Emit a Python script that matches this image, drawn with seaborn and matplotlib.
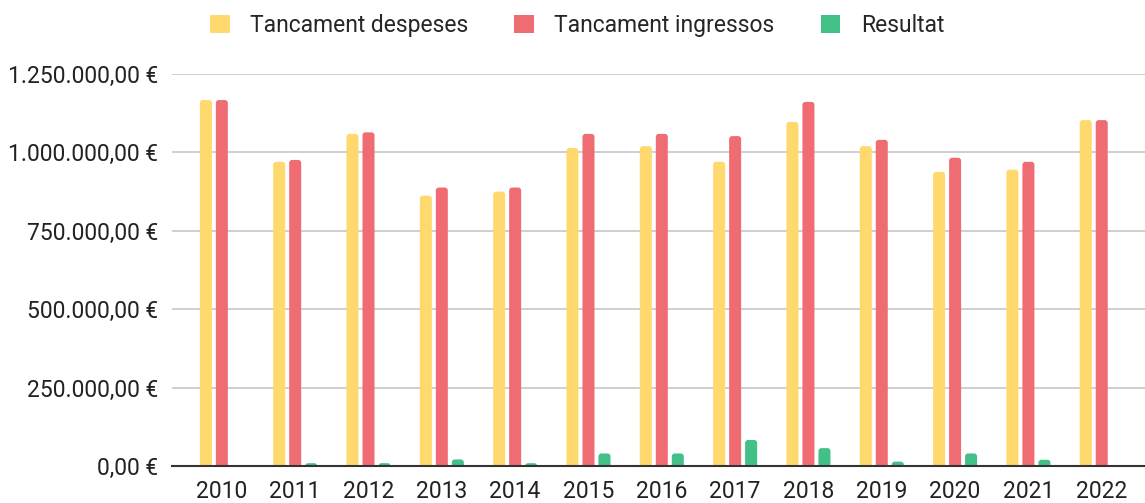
import matplotlib.pyplot as plt
import pandas as pd
import seaborn as sns
from matplotlib.patches import FancyBboxPatch, Patch
from matplotlib.ticker import FuncFormatter

years = [str(y) for y in range(2010, 2023)]
despeses = [1167000, 970000, 1059000, 862000, 875000, 1014000, 1020000,
            970000, 1097000, 1020000, 938000, 945000, 1103000]
ingressos = [1167000, 976000, 1064000, 888000, 888000, 1059000, 1059000,
             1052000, 1161000, 1040000, 983000, 970000, 1103000]
resultat = [1000, 9000, 9000, 21000, 9000, 40000, 40000,
            83000, 57000, 14000, 40000, 20000, 1000]

series = ["Tancament despeses", "Tancament ingressos", "Resultat"]
colors = ["#FFD96E", "#F06C73", "#43BF88"]

df = pd.DataFrame({
    "year": years * 3,
    "serie": [series[0]] * 13 + [series[1]] * 13 + [series[2]] * 13,
    "value": despeses + ingressos + resultat,
})


def euro(v, _pos):
    s = f"{v:,.2f}".replace(",", "X").replace(".", ",").replace("X", ".")
    return s + " €"


sns.set_style("white")
plt.rcParams["font.family"] = ["Roboto", "DejaVu Sans"]

fig = plt.figure(figsize=(11.45, 5.03), dpi=100)
ax = fig.add_axes([172 / 1145, 37 / 503, 973 / 1145, 392 / 503])

sns.barplot(data=df, x="year", y="value", hue="serie", palette=colors,
            width=0.655, gap=0.25, saturation=1, ax=ax, legend=False)

ax.set_ylim(0, 1250000)
ax.set_xlim(-0.68, 12.59)

# rounded tops, like the original
px_x = 13.27 / 973
px_y = 1250000 / 392
for bar in list(ax.patches):
    x, y = bar.get_x(), bar.get_y()
    w, h = bar.get_width(), bar.get_height()
    if h <= 0:
        continue
    r = 3 * px_x
    ext = 3 * px_y
    rounded = FancyBboxPatch(
        (x, y - ext), w, h + ext,
        boxstyle=f"round,pad=0,rounding_size={r}",
        mutation_aspect=px_y / px_x,
        facecolor=bar.get_facecolor(), edgecolor="none", zorder=bar.get_zorder(),
    )
    bar.remove()
    ax.add_patch(rounded)

ax.set_yticks([0, 250000, 500000, 750000, 1000000, 1250000])
ax.yaxis.set_major_formatter(FuncFormatter(euro))
ax.grid(axis="y", color="#cccccc", linewidth=1.3)
ax.set_axisbelow(True)
for s in ["top", "right", "left"]:
    ax.spines[s].set_visible(False)
ax.spines["bottom"].set_color("#333333")
ax.spines["bottom"].set_linewidth(1.5)
ax.spines["bottom"].set_zorder(5)
ax.tick_params(axis="y", length=0, pad=10, labelsize=16.5, labelcolor="#222222")
ax.tick_params(axis="x", length=0, pad=10, labelsize=16.5, labelcolor="#222222")
ax.set_xlabel("")
ax.set_ylabel("")

handles = [Patch(facecolor=c, edgecolor="none") for c in colors]
fig.legend(handles, series, loc="center", bbox_to_anchor=(0.504, 0.95),
           ncol=3, frameon=False, fontsize=16.5, handlelength=0.85,
           handleheight=0.85, handletextpad=0.9, columnspacing=2.0)

fig.savefig("out.png", dpi=100)
